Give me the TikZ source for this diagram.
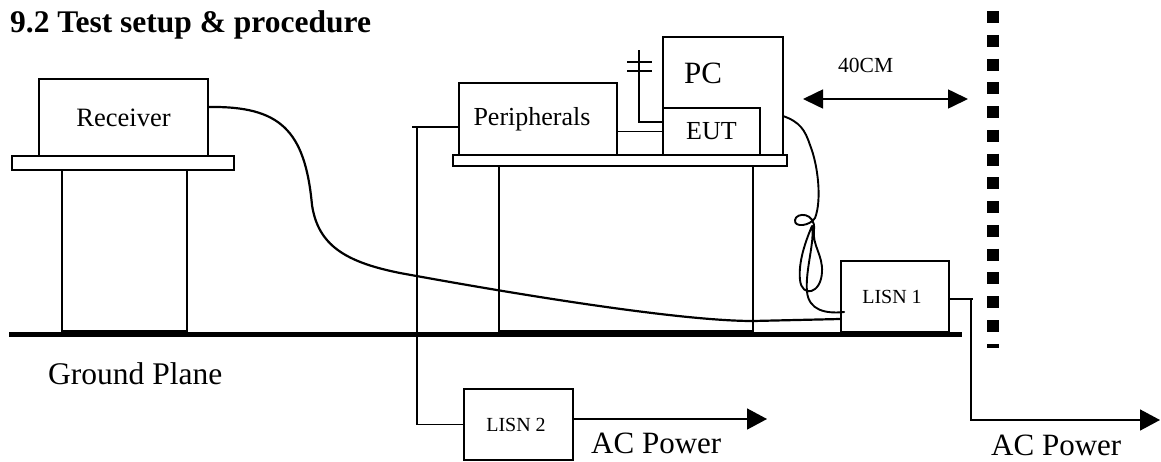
\documentclass[tikz,border=0pt]{standalone}
\usepackage{fontspec}
\setmainfont{Liberation Serif}
\usetikzlibrary{arrows.meta}
\begin{document}
\begin{tikzpicture}[x=1pt,y=-1pt,
  box/.style={draw, line width=1.6pt, inner sep=0pt, rectangle},
  cable/.style={line width=2.2pt, line cap=round, line join=round},
  wire/.style={line width=1.6pt},
  pwrarrow/.style={line width=1.6pt, -{Triangle[length=20pt,width=21pt]}},
  txt/.style={inner sep=0pt, font=\fontsize{#1}{#1}\selectfont}]
\useasboundingbox (0,0) rectangle (1161,461);
% title
\node[txt=31.5, anchor=base west, font=\fontsize{31.5}{31.5}\selectfont\bfseries] (title) at (10,32) {9.2 Test setup \& procedure};
% ground plane
\draw[line width=5pt] (9,334) coordinate (gpl) -- (962,334) coordinate (gpr);
\node[txt=31.5, anchor=base west] (gptext) at (48,384) {Ground Plane};
% receiver table
\node[box, minimum width=222pt, minimum height=14pt] (t1top) at (123,163) {};
\node[box, minimum width=125pt, minimum height=161pt] (t1leg) at (124.5,250.5) {};
\node[box, minimum width=169pt, minimum height=77pt, font=\fontsize{26.5}{26.5}\selectfont] (recv) at (123.5,117.5) {Receiver};
% second table
\node[box, minimum width=334pt, minimum height=11pt] (t2top) at (620,160.5) {};
\node[box, minimum width=254pt, minimum height=165pt] (t2leg) at (626,248.5) {};
\node[box, minimum width=158pt, minimum height=72pt, font=\fontsize{26}{26}\selectfont] (peri) at (538,119) {\hspace*{-12pt}Peripherals};
\node[box, minimum width=120pt, minimum height=118pt] (pc) at (723,96) {};
\node[txt=31, anchor=base] (pctext) at (703,83) {PC};
\node[box, minimum width=97pt, minimum height=47pt, font=\fontsize{26}{26}\selectfont] (eut) at (711.5,131.5) {EUT};
% LISNs
\node[box, minimum width=108pt, minimum height=71pt, font=\fontsize{20}{20}\selectfont] (lisn1) at (895,296.5) {\hspace*{-6pt}LISN 1};
\node[box, minimum width=109pt, minimum height=71pt, font=\fontsize{20}{20}\selectfont] (lisn2) at (518.5,424.5) {\hspace*{-5pt}LISN 2};
% antenna / ground symbol
\coordinate (ant) at (639,50);
\draw[wire] (ant) |- ([yshift=9.5pt]eut.west);
\coordinate (ga1) at (627,62); \coordinate (gb1) at (652,62);
\coordinate (ga2) at (627,71); \coordinate (gb2) at (652,71);
\draw[wire] (ga1) -- (gb1);
\draw[wire] (ga2) -- (gb2);
% peripherals to EUT
\draw[wire] ([yshift=-12.5pt]peri.east) -- (eut.west);
% peripherals to LISN 2
\coordinate (pl) at (412,127);
\coordinate (pv) at (417,127);
\draw[wire] ([yshift=-8pt]peri.west) -- (pl);
\draw[wire] (pv) |- (lisn2.west);
% LISN 2 to AC power
\coordinate (ac2) at (767,419);
\draw[pwrarrow] ([yshift=5.5pt]lisn2.east) -- (ac2);
\node[txt=31, anchor=base west] (ac2text) at (591,453) {AC Power};
% LISN 1 to AC power
\coordinate (l1r) at (973,299);
\coordinate (l1v) at (971,299);
\coordinate (ac1) at (1160,420);
\draw[wire] ([yshift=-2.5pt]lisn1.east) -- (l1r);
\draw[pwrarrow] (l1v) |- (ac1);
\node[txt=31, anchor=base west] (ac1text) at (991,455) {AC Power};
% wall
\coordinate (w1) at (993,11);
\coordinate (w2) at (993,348);
\draw[line width=12pt, dash pattern=on 12pt off 11.77pt] (w1) -- (w2);
% 40cm
\coordinate (d1) at (803,99);
\coordinate (d2) at (968,99);
\draw[line width=1.6pt, {Triangle[length=20pt,width=19pt]}-{Triangle[length=20pt,width=19pt]}] (d1) -- (d2);
\node[txt=21.5, anchor=base west] (dtext) at (838,72) {40CM};
% receiver cable
\draw[cable] (recv.east |- 0,107) .. controls (280,106) and (305,130) .. (312,205)
  .. controls (318,245) and (345,262) .. (400,273)
  .. controls (520,295) and (680,321) .. (753,321)
  -- ([yshift=-22.5pt]lisn1.west);
% EUT cable with loop
\draw[line width=1.9pt, line cap=round, line join=round] (783,116) .. controls (800,122) and (805,130) .. (810,145)
  .. controls (818,165) and (822,200) .. (815,218)
  .. controls (810,226) and (794,228) .. (795,220)
  .. controls (796,212) and (816,212) .. (814,230)
  .. controls (812,245) and (823,255) .. (822,272)
  .. controls (821,294) and (802,298) .. (800,280)
  .. controls (798,262) and (806,240) .. (812,226)
  .. controls (815,242) and (805,270) .. (807,292)
  .. controls (809,310) and (825,314) .. ([xshift=4pt,yshift=-15.5pt]lisn1.west);
\end{tikzpicture}
\end{document}
